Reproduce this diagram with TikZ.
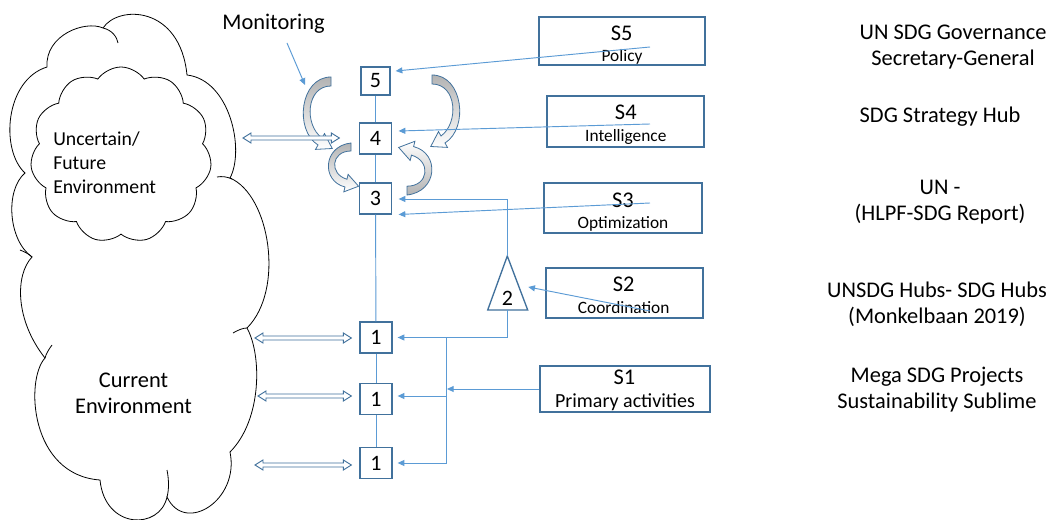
\documentclass[tikz,border=0pt]{standalone}
\usepackage{fontspec}
\setmainfont{Carlito}
\usetikzlibrary{shapes.symbols,arrows.meta,calc}
\definecolor{boxblue}{HTML}{41719C}
\definecolor{linkblue}{HTML}{5B9BD5}
\begin{document}
\begin{tikzpicture}[x=0.75pt,y=-0.75pt,
  numbox/.style={draw=boxblue, line width=1pt, fill=white, minimum width=24pt, minimum height=23.25pt, inner sep=0pt, font=\fontsize{16.5}{18}\selectfont},
  sbox/.style={draw=boxblue, line width=0.9pt, inner sep=0pt},
  stitle/.style={font=\fontsize{16.8}{19}\selectfont, inner sep=0pt},
  ssub/.style={font=\fontsize{13}{15}\selectfont, inner sep=0pt},
  biglabel/.style={font=\fontsize{16.8}{19.5}\selectfont, align=center, inner sep=0pt},
  conn/.style={draw=linkblue, line width=0.7pt, -{Triangle[length=5pt,width=4.5pt]}},
  wire/.style={draw=linkblue, line width=0.7pt},
  dbl/.style={draw=boxblue, line width=0.7pt, fill=white},
  cloudline/.style={draw=black, line width=0.6pt},
  carrow/.style={draw=boxblue, line width=0.6pt, top color=gray!60, bottom color=white},
  carrowA/.pic={\path[carrow] (0,0) .. controls (-31,0) and (-37,53) .. (-13,68) -- (-15.5,72.4) -- (1.25,71.5) -- (-6.5,56.6) -- (-9,61) .. controls (-27,48) and (-25,9) .. (0,9) -- cycle;},
  carrowB/.pic={\path[carrow] (0,0) .. controls (-28,3) and (-30,38) .. (-6,44) -- (-7.2,48.85) -- (7.57,43.24) -- (-2.88,31.39) -- (-4.08,36.24) .. controls (-22,31) and (-20,8) .. (0,8) -- cycle;}
]
\newcommand{\blockdbl}[2]{\draw[dbl] (#1) -- ($(#1)+(8,-5)$) -- ($(#1)+(8,-2)$) -- ($(#2)+(-8,-2)$) -- ($(#2)+(-8,-5)$) -- (#2) -- ($(#2)+(-8,5)$) -- ($(#2)+(-8,2)$) -- ($(#1)+(8,2)$) -- ($(#1)+(8,5)$) -- cycle;}
\useasboundingbox[fill=white] (0,0) rectangle (1050,520);

% outer cloud
\path[cloudline, fill=white] (47,67) .. controls (45,35) and (85,20) .. (103,28)
  .. controls (118,5) and (180,5) .. (187,75)
  .. controls (230,80) and (245,150) .. (230,178)
  .. controls (270,195) and (285,290) .. (247,328)
  .. controls (262,355) and (262,420) .. (230,452)
  .. controls (240,500) and (185,535) .. (167,497)
  .. controls (160,530) and (105,530) .. (100,480)
  .. controls (30,475) and (25,380) .. (45,358)
  .. controls (15,320) and (15,275) .. (32,257)
  .. controls (8,240) and (5,190) .. (25,173)
  .. controls (0,150) and (5,80) .. (47,67) -- cycle;
\draw[cloudline] (103,28) .. controls (112,30) and (117,37) .. (118,43);
\draw[cloudline] (217,177) .. controls (222,176) and (228,177) .. (232,179);
\draw[cloudline] (233,333) .. controls (238,330) and (243,328) .. (247,328);
\draw[cloudline] (167,470) .. controls (169,480) and (169,490) .. (167,497);
\draw[cloudline] (52,345) .. controls (49,349) and (46,354) .. (45,358);
\draw[cloudline] (20,250) .. controls (25,252) and (29,254) .. (32,257);

% inner cloud
\node[cloud, cloud puffs=11, cloud puff arc=110, aspect=1.2, draw=black, line width=0.6pt, fill=white, minimum width=136pt, minimum height=132pt, inner sep=0pt] (ucloud) at (121,155) {};
\node[anchor=west, align=left, inner sep=0pt, font=\fontsize{14.8}{18}\selectfont] (utext) at (53,163) {Uncertain/\\Future\\Environment};
\node[biglabel] (ctext) at (133.5,393) {Current\\Environment};

% curved arrows
\pic at (331,77) {carrowA};
\pic[xscale=-1] at (432,75) {carrowA};
\pic at (351,143) {carrowB};
\pic[rotate=180, scale=1.1, carrow/.append style={top color=white, bottom color=gray!60}] at (407,195) {carrowB};

% number boxes
\node[numbox, minimum width=21.75pt, minimum height=21pt] (b5) at (375.5,81) {5};
\node[numbox] (b4) at (375.5,138.5) {4};
\node[numbox] (b3) at (375.5,198.5) {3};
\node[numbox] (b1a) at (376,337.5) {1};
\node[numbox] (b1b) at (376,399) {1};
\node[numbox] (b1c) at (376,463) {1};
\draw[wire] (b5) -- (b4);
\draw[wire] (b4) -- (b3);
\draw[wire] (b3) -- (b1a);
\draw[wire] (b1a) -- (b1b);
\draw[wire] (b1b) -- (b1c);

% triangle 2
\coordinate (t2apex) at (507.3,256);
\coordinate (t2bl) at (487.7,310);
\coordinate (t2br) at (527.7,310);
\coordinate (t2base) at (507.3,310);
\draw[draw=boxblue, line width=1pt, fill=white] (t2apex) -- (t2bl) -- (t2br) -- cycle;
\node[inner sep=0pt, font=\fontsize{16.5}{18}\selectfont] (n2) at (507.5,298) {2};

% S boxes
\node[sbox, minimum width=124.5pt, minimum height=36pt] (s5) at (622,41) {};
\node[stitle] (s5t) at (621.7,33) {S5};
\node[ssub] (s5s) at (622,56.5) {Policy};
\node[sbox, minimum width=117.75pt, minimum height=38.25pt] (s4) at (625.5,121.5) {};
\node[stitle] (s4t) at (625.8,112) {S4};
\node[ssub] (s4s) at (625.8,137) {Intelligence};
\node[sbox, minimum width=118.5pt, minimum height=37.5pt] (s3) at (623,208) {};
\node[stitle] (s3t) at (623,200) {S3};
\node[ssub] (s3s) at (623,223.5) {Optimization};
\node[sbox, minimum width=117.75pt, minimum height=37.5pt] (s2) at (624.5,293) {};
\node[stitle] (s2t) at (623.7,284) {S2};
\node[ssub] (s2s) at (623.7,308) {Coordination};
\node[sbox, minimum width=127.5pt, minimum height=34.5pt] (s1) at (625,389) {};
\node[stitle] (s1t) at (624.5,377.5) {S1};
\node[ssub, font=\fontsize{15}{17}\selectfont] (s1s) at (625,402.5) {Primary activities};

% connectors from S boxes
\coordinate (s5src) at ($(s5.center)+(28,6)$);
\coordinate (s4src) at ($(s4.center)+(24.5,2.5)$);
\coordinate (s3src) at ($(s3.center)+(27,-5)$);
\coordinate (s2src) at ($(s2.center)+(25.5,18)$);
\draw[conn] (s5src) -- ($(b5.east)+(5,-10)$);
\draw[conn] (s4src) -- ($(b4.east)+(6.5,-7.5)$);
\draw[conn] (s3src) -- ($(b3.east)+(6.5,16)$);
\draw[conn] (s2src) -- ($(t2apex)+(21,31)$);
\draw[conn] (t2apex) |- ($(b3.east)+(6.5,0.5)$);
\draw[conn] (t2base) |- ($(b1a.east)+(5,0)$);
\coordinate (jtop) at (446,337.5);
\coordinate (jmid) at (446,396);
\draw[conn] (jtop) |- ($(b1c.east)+(5,0)$);
\draw[conn] (jmid) -- ($(b1b.east)+(5,-3)$);
\draw[conn] (s1.west) -- ($(s1.west -| jtop)+(1,0)$);

% double arrows
\coordinate (d1l) at (243,138);
\coordinate (d1r) at ($(b4.west)+(-19.5,-0.5)$);
\coordinate (d2l) at (255,338);
\coordinate (d2r) at ($(b1a.west)+(-8,0.5)$);
\coordinate (d3l) at (258,396);
\coordinate (d3r) at ($(b1b.west)+(-8,-3)$);
\coordinate (d4l) at (255,465);
\coordinate (d4r) at ($(b1c.west)+(-8,2)$);
\blockdbl{d1l}{d1r}
\blockdbl{d2l}{d2r}
\blockdbl{d3l}{d3r}
\blockdbl{d4l}{d4r}

% monitoring
\node[inner sep=0pt, font=\fontsize{16.8}{19}\selectfont] (mon) at (273.5,24) {Monitoring};
\coordinate (monsrc) at (287,43);
\coordinate (montip) at (305,85);
\draw[conn] (monsrc) -- (montip);

% right labels
\node[biglabel] (l5) at (953,47) {UN SDG Governance\\Secretary-General};
\node[biglabel] (l4) at (940,117) {SDG Strategy Hub};
\node[biglabel] (l3) at (940,202.5) {UN -\\(HLPF-SDG Report)};
\node[biglabel] (l2) at (937,304) {UNSDG Hubs- SDG Hubs\\(Monkelbaan 2019)};
\node[biglabel] (l1) at (937,390) {Mega SDG Projects\\Sustainability Sublime};
\end{tikzpicture}
\end{document}
